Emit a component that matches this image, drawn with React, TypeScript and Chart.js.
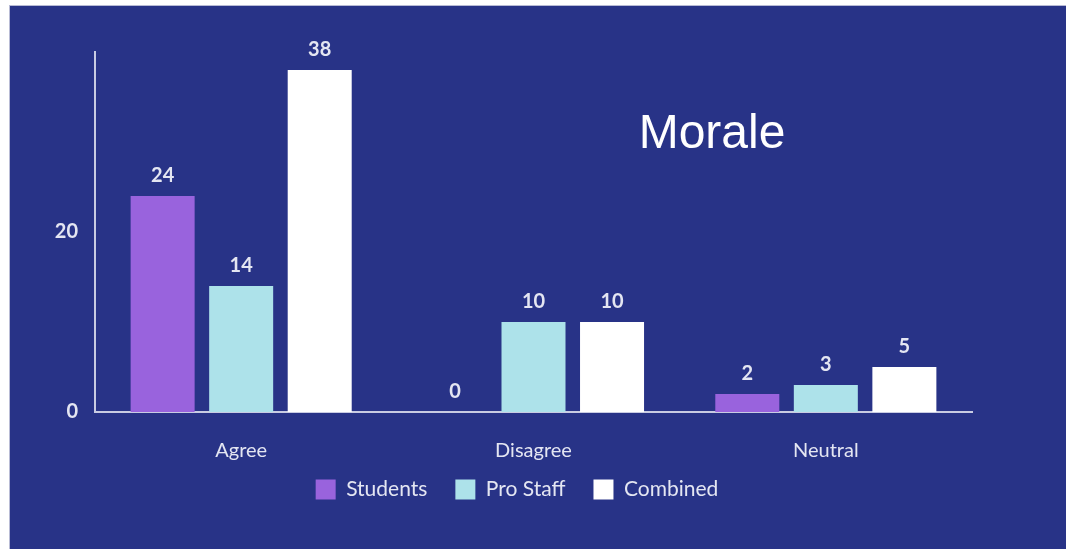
import React, { useEffect, useRef } from "react";
import { Chart, registerables } from "chart.js";

Chart.register(...registerables);

const categories = ["Agree", "Disagree", "Neutral"];
const seriesNames = ["Students", "Pro Staff", "Combined"];
const studentsValues = [24, 0, 2];
const proStaffValues = [14, 10, 3];
const combinedValues = [38, 10, 5];
const yTickValues = [0, 20];
const chartTitle = "Morale";

const BG = "#283387";
const TEXT = "#e4e6f2";
const AXIS = "#c9cce3";
const FONT = "Lato, 'Open Sans', sans-serif";

const valueLabelPlugin = {
  id: "valueLabels",
  afterDatasetsDraw(chart: any) {
    const ctx = chart.ctx;
    ctx.save();
    ctx.fillStyle = TEXT;
    ctx.font = `bold 20px ${FONT}`;
    ctx.textAlign = "center";
    ctx.textBaseline = "middle";
    chart.data.datasets.forEach((ds: any, i: number) => {
      const meta = chart.getDatasetMeta(i);
      meta.data.forEach((el: any, j: number) => {
        ctx.fillText(String(ds.data[j]), el.x, el.y - 20);
      });
    });
    ctx.restore();
  },
};

const titlePlugin = {
  id: "innerTitle",
  afterDraw(chart: any) {
    const ctx = chart.ctx;
    ctx.save();
    ctx.fillStyle = "#ffffff";
    ctx.font = `48px 'Liberation Sans', Arial, sans-serif`;
    ctx.textAlign = "center";
    ctx.textBaseline = "middle";
    ctx.fillText(chartTitle, 702, 129);
    ctx.restore();
  },
};

export default function App() {
  const ref = useRef<HTMLCanvasElement | null>(null);

  useEffect(() => {
    if (!ref.current) return;
    const chart = new Chart(ref.current, {
      type: "bar",
      data: {
        labels: categories,
        datasets: [
          { label: seriesNames[0], data: studentsValues, backgroundColor: "#9963dd" },
          { label: seriesNames[1], data: proStaffValues, backgroundColor: "#ade2ea" },
          { label: seriesNames[2], data: combinedValues, backgroundColor: "#ffffff" },
        ],
      },
      options: {
        responsive: false,
        animation: false,
        devicePixelRatio: 1,
        datasets: { bar: { categoryPercentage: 0.806, barPercentage: 0.815 } },
        layout: { padding: { left: 52, right: 94, top: 46, bottom: 39 } },
        plugins: {
          tooltip: { enabled: false },
          title: { display: false },
          legend: {
            position: "bottom",
            labels: {
              color: TEXT,
              boxWidth: 20,
              boxHeight: 20,
              padding: 28,
              font: { family: FONT, size: 21 },
            },
          },
        },
        scales: {
          x: {
            grid: { display: false, drawTicks: false },
            border: { display: true, color: AXIS, width: 2 },
            ticks: { color: TEXT, padding: 27, font: { family: FONT, size: 20 } },
            afterFit: (s: any) => {
              s.height = 39;
              s._computeLabelArea = () => undefined;
            },
          },
          y: {
            min: 0,
            max: 40,
            grid: { display: false, drawTicks: false },
            border: { display: true, color: AXIS, width: 2 },
            afterBuildTicks: (s: any) => {
              s.ticks = yTickValues.map((v) => ({ value: v }));
            },
            ticks: { color: TEXT, padding: 17, font: { family: FONT, size: 20, weight: "bold" } },
            afterFit: (s: any) => {
              s.width = 33;
              s._computeLabelArea = () => undefined;
            },
          },
        },
      },
      plugins: [valueLabelPlugin, titlePlugin],
    } as any);
    return () => chart.destroy();
  }, []);

  return (
    <div style={{ position: "absolute", left: 0, top: 0, width: 1066, height: 549, background: "#ffffff", overflow: "hidden" }}>
      <div
        style={{
          position: "absolute",
          left: 9,
          top: 5,
          width: 1057,
          height: 544,
          background: BG,
          borderTop: "1px solid #b8bbd5",
          borderLeft: "1px solid #b8bbd5",
        }}
      >
        <canvas ref={ref} width={1056} height={543} style={{ display: "block" }} />
      </div>
    </div>
  );
}
